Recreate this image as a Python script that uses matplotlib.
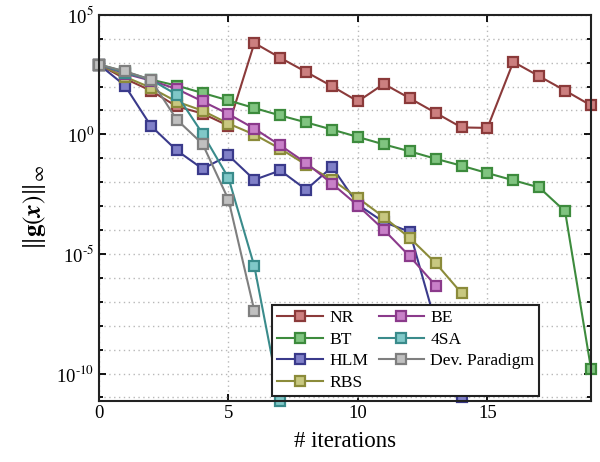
import numpy as np
import matplotlib
matplotlib.use('Agg')
import matplotlib.pyplot as plt

plt.rcParams['font.family'] = ['Liberation Serif', 'DejaVu Serif']
plt.rcParams['mathtext.fontset'] = 'stix'

# log10 of ||g(x)||_inf
nr = [2.92, 2.33, 1.83, 1.17, 0.87, 0.36, 3.82, 3.20, 2.61, 2.01, 1.38, 2.11, 1.51, 0.90, 0.29, 0.27, 3.03, 2.43, 1.83, 1.21]
bt = [2.92, 2.62, 2.29, 2.04, 1.73, 1.42, 1.10, 0.79, 0.50, 0.20, -0.11, -0.42, -0.71, -1.02, -1.31, -1.62, -1.92, -2.22, -3.22, -9.80]
hlm = [2.92, 2.04, 0.36, -0.67, -1.44, -0.88, -1.90, -1.51, -2.31, -1.36, -2.94, -3.67, -4.07, -7.9, -11.0]
rbs = [2.92, 2.41, 1.95, 1.37, 0.99, 0.45, -0.01, -0.60, -1.27, -1.90, -2.66, -3.46, -4.33, -5.38, -6.64]
be = [2.92, 2.54, 2.25, 1.90, 1.38, 0.85, 0.24, -0.46, -1.20, -2.06, -2.98, -3.99, -5.10, -6.32]
sa4 = [2.92, 2.58, 2.29, 1.66, 0.03, -1.82, -5.52, -11.13]
dev = [2.92, 2.64, 2.29, 0.62, -0.40, -2.73, -7.38]

series = [
    ('NR', nr, '#8B3A3A', '#CC7F7F'),
    ('BT', bt, '#3D8B3D', '#80C480'),
    ('HLM', hlm, '#3A3A8B', '#8080C8'),
    ('RBS', rbs, '#8B8B3A', '#C8C880'),
    ('BE', be, '#8B3A8B', '#C880C8'),
    ('4SA', sa4, '#3A8B8B', '#80C8C8'),
    ('Dev. Paradigm', dev, '#7F7F7F', '#C0C0C0'),
]

fig = plt.figure(figsize=(6, 4.62), dpi=100)
ax = fig.add_axes([0.165, 0.133, 0.82, 0.835])

for name, vals, lc, fc in series:
    y = 10.0 ** np.array(vals)
    ax.semilogy(np.arange(len(y)), y, '-s', color=lc, mfc=fc, mec=lc,
                ms=7.2, mew=1.6, lw=1.5, label=name, clip_on=False)

ax.set_xlim(0, 19)
ax.set_ylim(10 ** -11.13, 1e5)
ax.set_xticks([0, 5, 10, 15])
ax.set_yticks([1e-10, 1e-5, 1e0, 1e5])
ax.set_yticklabels(['10$^{\\text{-10}}$', '10$^{\\text{-5}}$', '10$^{0}$', '10$^{5}$'])
ax.set_yticks([10.0 ** k for k in range(-11, 5)], minor=True)
ax.yaxis.set_minor_formatter(matplotlib.ticker.NullFormatter())
ax.tick_params(which='both', direction='in', top=True, right=True, labelsize=13.5, width=1.3)
ax.tick_params(which='major', length=5)
ax.tick_params(which='minor', length=3)
ax.grid(True, which='both', axis='y', linestyle=(0, (1, 2.5)), color='#B8B8B8', lw=1)
ax.grid(True, which='major', axis='x', linestyle=(0, (1, 2.5)), color='#B8B8B8', lw=1)
for s in ax.spines.values():
    s.set_linewidth(1.5)
    s.set_color('#222222')

ax.set_xlabel('# iterations', fontsize=16.5, labelpad=6)
ax.set_ylabel(r'$\|\mathbf{g}(\mathbfit{x})\|_\infty$', fontsize=18, labelpad=6)

leg = ax.legend(ncol=2, loc='lower left', bbox_to_anchor=(0.352, 0.012), fontsize=12.6,
                frameon=True, fancybox=False, edgecolor='#222222', framealpha=1,
                borderpad=0.3, labelspacing=0.3, handlelength=2.6, columnspacing=0.6,
                handletextpad=0.35, borderaxespad=0)
leg.get_frame().set_linewidth(1.5)

fig.savefig('out.png', dpi=100)
